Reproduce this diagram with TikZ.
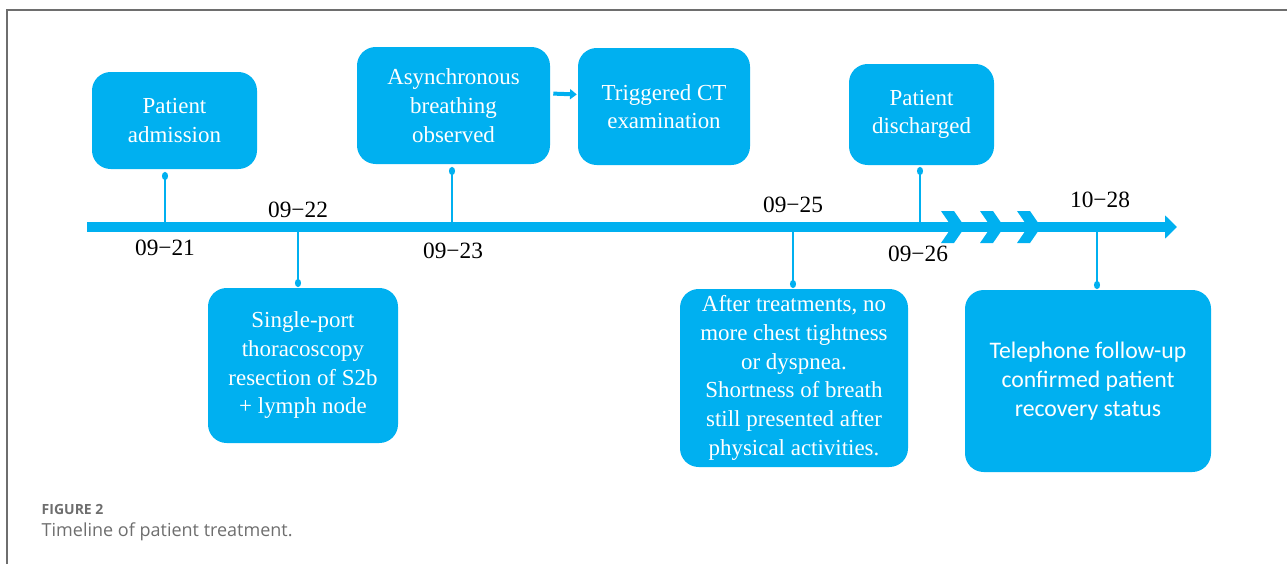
\documentclass[tikz,border=0pt]{standalone}
\usepackage{fontspec}
\setmainfont{Liberation Serif}
\newfontfamily\capfont{Open Sans}
\newfontfamily\telfont{Carlito}
\usepackage{tikz}
\usetikzlibrary{arrows.meta}
\definecolor{tl}{RGB}{0,176,240}
\definecolor{capgray}{RGB}{110,110,110}

\begin{document}
\begin{tikzpicture}[x=0.75pt,y=0.75pt,yscale=-1,xscale=1,
  event/.style={fill=tl, rounded corners=14pt, text=white, align=center, inner sep=0pt, font=\fontsize{17.2}{21.5}\selectfont},
  stem/.style={draw=tl, line width=1.5pt, -{Circle[length=6pt,width=4.5pt]}},
  axis/.style={draw=tl, line width=7.5pt, -{Triangle[length=9pt,width=17pt]}},
  link/.style={draw=tl, line width=3pt, -{Triangle[length=5pt,width=7.5pt]}},
  datelbl/.style={font=\fontsize{17.5}{20}\selectfont}]
\useasboundingbox (0,0) rectangle (1287,564);

%Frame lines
\draw [color=capgray, line width=1.2pt] (7,564) -- (7,10) -- (1287,10) ;

%Main time line
\coordinate (start) at (87,227) ;
\coordinate (end) at (1177,227) ;
\draw [axis] (start) -- (end) ;
%Chevrons
\foreach \cx in {941,980,1017}
  \fill [tl] (\cx,211) -- ++(13,0) -- ++(11,16) -- ++(-11,16) -- ++(-13,0) -- ++(11,-16) -- cycle ;

%Event boxes
\node [event, minimum width=123.75pt, minimum height=72.75pt] (adm) at (174.5,120.5) {Patient\\admission};
\node [event, minimum width=142.5pt, minimum height=116.25pt] (surg) at (303,365.5) {Single-port\\thoracoscopy\\resection of S2b\\+ lymph node};
\node [event, minimum width=144.75pt, minimum height=87.75pt] (async) at (453.5,105.5) {Asynchronous\\breathing\\observed};
\node [event, minimum width=129pt, minimum height=87.75pt] (ct) at (664,106.5) {Triggered CT\\examination};
\node [event, minimum width=108.75pt, minimum height=75.75pt] (disc) at (921.5,114.5) {Patient\\discharged};
\node [event, minimum width=171pt, minimum height=133.5pt] (treat) at (794,378) {After treatments, no\\more chest tightness\\or dyspnea.\\Shortness of breath\\still presented after\\physical activities.};
\node [event, minimum width=184.5pt, minimum height=136.5pt, font=\telfont\fontsize{17.8}{21.5}\selectfont] (tel) at (1088,381) {Telephone follow-up\\confirmed patient\\recovery status};

%Arrow between boxes
\draw [link, shorten <=2.25pt, shorten >=0.75pt] ([yshift=-9pt]async.east) -- ([yshift=-9pt]ct.west) ;

%Stems from line to boxes
\coordinate (t1) at (165,227) ;   \coordinate (d1) at (165,172) ;
\coordinate (t2) at (298,227) ;   \coordinate (d2) at (298,287) ;
\coordinate (t3) at (452,227) ;   \coordinate (d3) at (452,167) ;
\coordinate (t4) at (793,227) ;   \coordinate (d4) at (793,288) ;
\coordinate (t5) at (920,227) ;   \coordinate (d5) at (920,167) ;
\coordinate (t6) at (1097,227) ;  \coordinate (d6) at (1097,289) ;
\foreach \i in {1,...,6}
  \draw [stem] (t\i) -- (d\i) ;

%Dates
\node [datelbl] (dt1) at (165,248) {09−21};
\node [datelbl] (dt2) at (298,210) {09−22};
\node [datelbl] (dt3) at (453,251) {09−23};
\node [datelbl] (dt4) at (793,205) {09−25};
\node [datelbl] (dt5) at (918,254) {09−26};
\node [datelbl] (dt6) at (1100,200) {10−28};

%Caption
\node [anchor=west, text=capgray, font=\capfont\fontsize{10.5}{12}\selectfont\bfseries] (fig) at (37,509) {FIGURE 2};
\node [anchor=west, text=capgray, font=\capfont\fontsize{13.5}{16}\selectfont] (cap) at (37,532) {Timeline of patient treatment.};
\end{tikzpicture}
\end{document}
